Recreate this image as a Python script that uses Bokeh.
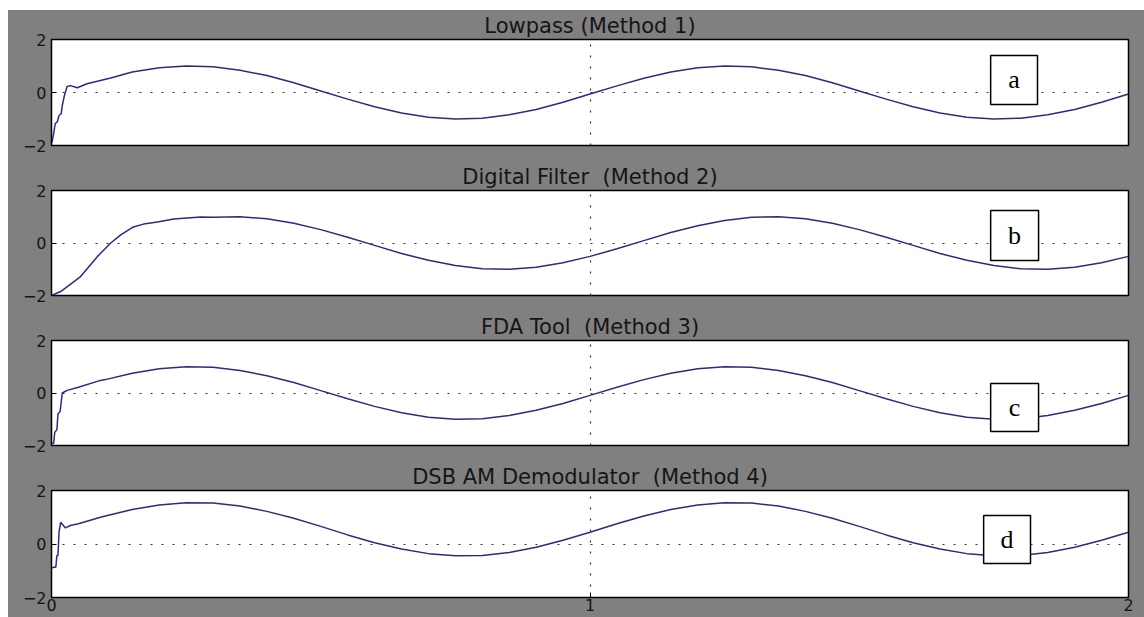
from bokeh.plotting import figure
from bokeh.layouts import column
from bokeh.models import Range1d, FixedTicker, BoxAnnotation, Label
from bokeh.embed import file_html
from bokeh.resources import INLINE

# ---------------- data ----------------
titles = ["Lowpass (Method 1)", "Digital Filter \u00a0(Method 2)",
          "FDA Tool \u00a0(Method 3)", "DSB AM Demodulator \u00a0(Method 4)"]
panel_tags = ["a", "b", "c", "d"]
x_ticks = [0, 1, 2]
y_ticks = [-2, 0, 2]

grid_x = [0.15, 0.2, 0.25, 0.3, 0.35, 0.4, 0.45, 0.5, 0.55, 0.6, 0.65, 0.7,
          0.75, 0.8, 0.85, 0.9, 0.95, 1.0, 1.05, 1.1, 1.15, 1.2, 1.25, 1.3,
          1.35, 1.4, 1.45, 1.5, 1.55, 1.6, 1.65, 1.7, 1.75, 1.8, 1.85, 1.9,
          1.95, 2.0]

x_lowpass = [0.0, 0.001, 0.004, 0.007, 0.011, 0.014, 0.018, 0.02, 0.024, 0.029,
             0.035, 0.048, 0.066, 0.11] + grid_x
y_lowpass = [-1.9, -1.87, -1.55, -1.17, -1.1, -0.87, -0.8, -0.49, -0.11, 0.23,
             0.26, 0.18, 0.33, 0.55,
             0.77, 0.93, 1.0, 0.97, 0.84, 0.64, 0.37, 0.06, -0.25, -0.54, -0.77, -0.93,
             -1.0, -0.97, -0.84, -0.64, -0.37, -0.06, 0.25, 0.54, 0.77, 0.93, 1.0, 0.97,
             0.84, 0.64, 0.37, 0.06, -0.25, -0.54, -0.77, -0.93, -1.0, -0.97, -0.84, -0.64,
             -0.37, -0.06]

x_digital = [0.0, 0.017, 0.054, 0.085, 0.11, 0.128, 0.152, 0.171, 0.197, 0.227,
             0.277] + grid_x[3:]
y_digital = [-2.0, -1.85, -1.28, -0.52, 0.0, 0.3, 0.61, 0.72, 0.8, 0.91,
             0.99,
             0.98, 1.0, 0.92, 0.75, 0.51, 0.22, -0.09, -0.4, -0.66, -0.86, -0.98,
             -1.0, -0.92, -0.75, -0.51, -0.22, 0.09, 0.4, 0.66, 0.86, 0.98, 1.0, 0.92,
             0.75, 0.51, 0.22, -0.09, -0.4, -0.66, -0.86, -0.98, -1.0, -0.92, -0.75,
             -0.51]

x_fda = [0.0, 0.004, 0.006, 0.01, 0.012, 0.016, 0.02, 0.029, 0.05, 0.091,
         0.1] + grid_x
y_fda = [-1.9, -1.92, -1.5, -1.4, -0.8, -0.7, 0.0, 0.1, 0.22, 0.48,
         0.51,
         0.75, 0.92, 1.0, 0.98, 0.86, 0.66, 0.4, 0.09, -0.22, -0.51, -0.75, -0.92,
         -1.0, -0.98, -0.86, -0.66, -0.4, -0.09, 0.22, 0.51, 0.75, 0.92, 1.0, 0.98,
         0.86, 0.66, 0.4, 0.09, -0.22, -0.51, -0.75, -0.92, -1.0, -0.98, -0.86,
         -0.66, -0.4, -0.09]

x_dsb = [0.0, 0.004, 0.008, 0.01, 0.012, 0.014, 0.017, 0.026, 0.035, 0.05,
         0.091, 0.1] + grid_x
y_dsb = [-0.9, -0.87, -0.87, -0.43, -0.43, 0.44, 0.81, 0.6, 0.69, 0.76,
         1.0, 1.05,
         1.29, 1.46, 1.54, 1.53, 1.42, 1.22, 0.96, 0.66, 0.34, 0.05, -0.19, -0.36,
         -0.44, -0.43, -0.32, -0.12, 0.14, 0.44, 0.76, 1.05, 1.29, 1.46, 1.54, 1.53,
         1.42, 1.22, 0.96, 0.66, 0.34, 0.05, -0.19, -0.36, -0.44, -0.43, -0.32,
         -0.12, 0.14, 0.44]

series_x = [x_lowpass, x_digital, x_fda, x_dsb]
series_y = [y_lowpass, y_digital, y_fda, y_dsb]

# ---------------- style / layout ----------------
GRAY = "#808080"
LINE = "#2b2b85"
TXT = "#151515"
fig_heights = [150, 150, 150, 157]
tops = [29, 30, 30, 30]
bottoms = [15, 15, 15, 20]
# tag boxes (left, right, bottom, top) in axis units
tag_boxes = [(1.744, 1.831, -0.45, 1.40),
             (1.744, 1.833, -0.67, 1.24),
             (1.744, 1.833, -1.47, 0.36),
             (1.731, 1.818, -0.73, 1.07)]

figs = []
for i in range(4):
    p = figure(width=1136, height=fig_heights[i],
               x_range=Range1d(0, 2), y_range=Range1d(-2, 2),
               output_backend="svg", toolbar_location=None,
               min_border_left=43, min_border_right=16,
               min_border_top=tops[i], min_border_bottom=bottoms[i],
               background_fill_color="white", border_fill_color=GRAY,
               outline_line_color="black", outline_line_width=1.5)
    p.title.text = titles[i]
    p.title.align = "center"
    p.title.text_font = "DejaVu Sans"
    p.title.text_font_size = "21px"
    p.title.text_font_style = "normal"
    p.title.text_color = TXT
    p.title.standoff = 3

    p.line(series_x[i], series_y[i], line_color=LINE, line_width=1.5)

    p.yaxis.ticker = FixedTicker(ticks=y_ticks)
    p.yaxis.minor_tick_line_color = None
    p.yaxis.major_tick_in = 5
    p.yaxis.major_tick_out = 0
    p.yaxis.axis_line_color = "black"
    p.yaxis.major_label_text_font = "DejaVu Sans"
    p.yaxis.major_label_text_font_size = "16px"
    p.yaxis.major_label_text_color = TXT
    p.yaxis.major_label_standoff = 5

    p.xaxis.ticker = FixedTicker(ticks=x_ticks)
    p.xaxis.minor_tick_line_color = None
    p.xaxis.major_tick_in = 5
    p.xaxis.major_tick_out = 0
    p.xaxis.major_label_text_font = "DejaVu Sans"
    p.xaxis.major_label_text_font_size = "16px"
    p.xaxis.major_label_text_color = TXT
    p.xaxis.major_label_standoff = 1
    if i < 3:
        p.xaxis.visible = False

    p.xgrid.ticker = FixedTicker(ticks=[1])
    p.ygrid.ticker = FixedTicker(ticks=[0])
    for g in (p.xgrid, p.ygrid):
        g.grid_line_color = "#333333"
        g.grid_line_dash = "2 9"
        g.grid_line_width = 1.2

    l, r, b, t = tag_boxes[i]
    p.add_layout(BoxAnnotation(left=l, right=r, bottom=b, top=t,
                               fill_color="white", fill_alpha=1.0,
                               line_color="black", line_width=1.5, line_alpha=1.0))
    p.add_layout(Label(x=(l + r) / 2, y=(b + t) / 2, text=panel_tags[i],
                       text_align="center", text_baseline="middle",
                       text_font="Liberation Serif", text_font_size="26px",
                       text_color="black"))
    figs.append(p)

layout = column(*figs, spacing=0, margin=(10, 0, 0, 8),
                styles={"background-color": GRAY})
open("out.html", "w").write(file_html(layout, INLINE))
